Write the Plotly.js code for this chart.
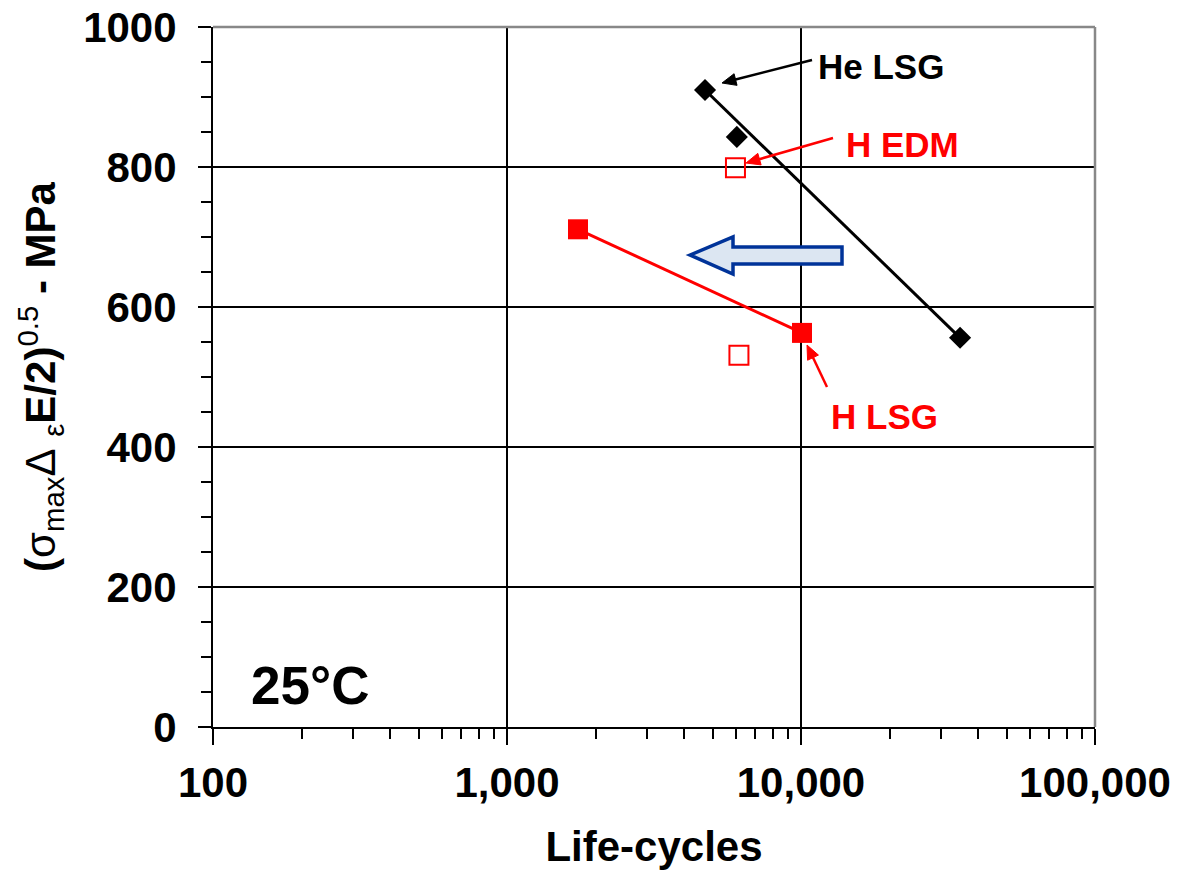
<!DOCTYPE html>
<html>
<head>
<meta charset="utf-8">
<script src="https://cdn.plot.ly/plotly-3.0.1.min.js"></script>
<style>html,body{margin:0;padding:0;background:#fff;}#chart{width:1180px;height:878px;}</style>
</head>
<body>
<div id="chart"></div>
<script>
// He LSG (black diamonds)
const heX = [4716, 6050, 34760];
const heY = [910, 843, 556];
const heFitX = [4716, 34760];
const heFitY = [910, 556];
// H LSG (filled red squares)
const hlsgX = [1744, 10080];
const hlsgY = [711, 563];
// H EDM (open red squares)
const hedmX = [5985, 6150];
const hedmY = [799, 531];

const xTickVals = [100, 1000, 10000, 100000];
const xTickText = ['100', '1,000', '10,000', '100,000'];
const yTickVals = [0, 200, 400, 600, 800, 1000];

const FONT = 'Liberation Sans, Arial, sans-serif';
const RED = '#ff0000';

// plot-area geometry (px) used to place decorations in paper coordinates
const L = 213, R = 1095, T = 27, B = 727;
const px = v => (v - L) / (R - L);
const py = v => (B - v) / (B - T);

function arrow(x0, y0, x1, y1, color, w) {
  const dx = x1 - x0, dy = y1 - y0, len = Math.hypot(dx, dy);
  const ux = dx / len, uy = dy / len;
  const hl = 14, hw = 6;
  const bx = x1 - ux * hl, by = y1 - uy * hl;
  const p1x = bx - uy * hw, p1y = by + ux * hw;
  const p2x = bx + uy * hw, p2y = by - ux * hw;
  return [
    {type: 'line', xref: 'paper', yref: 'paper', x0: px(x0), y0: py(y0), x1: px(bx + ux * 2), y1: py(by + uy * 2), line: {color: color, width: w}},
    {type: 'path', xref: 'paper', yref: 'paper',
     path: 'M ' + px(x1) + ' ' + py(y1) + ' L ' + px(p1x) + ' ' + py(p1y) + ' L ' + px(p2x) + ' ' + py(p2y) + ' Z',
     fillcolor: color, line: {color: color, width: 1}}
  ];
}

const traces = [
  {x: heFitX, y: heFitY, mode: 'lines', line: {color: '#000', width: 3}, hoverinfo: 'skip', showlegend: false},
  {x: heX, y: heY, mode: 'markers', marker: {symbol: 'diamond', size: 17, color: '#000'}, name: 'He LSG', showlegend: false},
  {x: hlsgX, y: hlsgY, mode: 'lines+markers', line: {color: RED, width: 3}, marker: {symbol: 'square', size: 20, color: RED}, name: 'H LSG', showlegend: false},
  {x: hedmX, y: hedmY, mode: 'markers', marker: {symbol: 'square-open', size: 19, color: RED, line: {color: RED, width: 2}}, name: 'H EDM', showlegend: false}
];

const nb = s => '<span style="font-weight:normal">' + s + '</span>';
const yTitle = '(' + nb('σ') + '<sub>' + nb('max') + '</sub>' + nb('Δ') + ' <sub>' + nb('ε') + '</sub>E/2)<sup>' + nb('0.5') + '</sup> - MPa\u00A0\u00A0\u00A0';

const shapes = [
  {type: 'line', xref: 'paper', yref: 'paper', x0: 0, x1: 1, y0: 1, y1: 1, line: {color: '#888', width: 2.5}},
  {type: 'line', xref: 'paper', yref: 'paper', x0: 1, x1: 1, y0: 0, y1: 1, line: {color: '#888', width: 2.5}},
  {type: 'path', xref: 'paper', yref: 'paper',
   path: 'M ' + px(690) + ' ' + py(255) + ' L ' + px(733) + ' ' + py(237) + ' L ' + px(733) + ' ' + py(247) +
         ' L ' + px(842) + ' ' + py(247) + ' L ' + px(842) + ' ' + py(264) + ' L ' + px(733) + ' ' + py(264) +
         ' L ' + px(733) + ' ' + py(274) + ' Z',
   fillcolor: '#dce6f2', line: {color: '#003399', width: 3.5}}
].concat(
  arrow(812, 60, 722, 83, '#000', 2.5),
  arrow(833, 138, 746, 163, RED, 2.5),
  arrow(827, 387, 807, 345, RED, 2.5)
);

const layout = {
  width: 1180, height: 878,
  margin: {l: 213, r: 85, t: 27, b: 151},
  paper_bgcolor: '#fff', plot_bgcolor: '#fff',
  font: {family: FONT, color: '#000', size: 42, weight: 'bold'},
  showlegend: false,
  xaxis: {
    type: 'log', range: [2, 5],
    tickvals: xTickVals, ticktext: xTickText,
    ticks: 'outside', ticklen: 16, tickwidth: 2, tickcolor: '#000',
    showline: true, linecolor: '#000', linewidth: 2,
    showgrid: true, gridcolor: '#000', gridwidth: 1.5,
    zeroline: false,
    tickfont: {family: FONT, size: 42, weight: 'bold', color: '#000'},
    ticklabelstandoff: 2,
    minor: {ticks: 'outside', ticklen: 10, tickwidth: 2, tickcolor: '#000', showgrid: false, dtick: 'D1'},
    title: {text: 'Life-cycles', font: {family: FONT, size: 42, weight: 'bold', color: '#000'}, standoff: 26}
  },
  yaxis: {
    range: [0, 1000],
    tickvals: yTickVals,
    ticks: 'outside', ticklen: 13, tickwidth: 2, tickcolor: '#000',
    showline: true, linecolor: '#000', linewidth: 2,
    showgrid: true, gridcolor: '#000', gridwidth: 1.5,
    zeroline: false,
    tickfont: {family: FONT, size: 42, weight: 'bold', color: '#000'},
    ticklabelstandoff: 13,
    minor: {ticks: 'outside', ticklen: 10, tickwidth: 2, tickcolor: '#000', showgrid: false, dtick: 50},
    title: {text: yTitle, font: {family: FONT, size: 42, weight: 'bold', color: '#000'}, standoff: 14}
  },
  shapes: shapes,
  annotations: [
    {xref: 'paper', yref: 'paper', x: px(881), y: py(66), xanchor: 'center', yanchor: 'middle', text: 'He LSG', showarrow: false, font: {family: FONT, size: 35, weight: 'bold', color: '#000'}},
    {xref: 'paper', yref: 'paper', x: px(902), y: py(144), xanchor: 'center', yanchor: 'middle', text: 'H EDM', showarrow: false, font: {family: FONT, size: 35, weight: 'bold', color: RED}},
    {xref: 'paper', yref: 'paper', x: px(884), y: py(416), xanchor: 'center', yanchor: 'middle', text: 'H LSG', showarrow: false, font: {family: FONT, size: 35, weight: 'bold', color: RED}},
    {xref: 'paper', yref: 'paper', x: px(310), y: py(685), xanchor: 'center', yanchor: 'middle', text: '25°C', showarrow: false, font: {family: FONT, size: 53, weight: 'bold', color: '#000'}}
  ]
};

Plotly.newPlot('chart', traces, layout, {displayModeBar: false, staticPlot: true});
</script>
</body>
</html>
